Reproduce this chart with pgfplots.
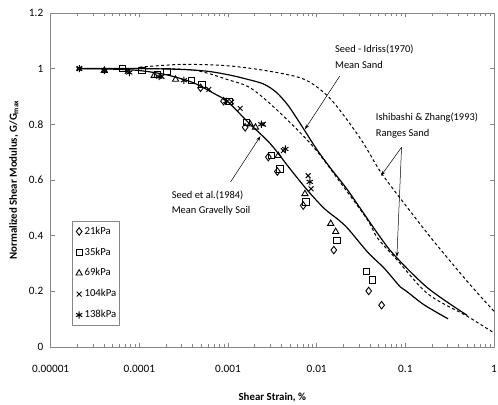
\documentclass[border=0pt]{standalone}
\usepackage{pgfplots}
\pgfplotsset{compat=1.18}
\usepackage{fontspec}
\setmainfont{Carlito}
\usetikzlibrary{arrows.meta}
\definecolor{framegray}{RGB}{134,134,134}
\begin{document}
\begin{tikzpicture}
\begin{axis}[name=ax,
  scale only axis, width=446pt, height=336pt,
  xmode=log, xmin=1e-5, xmax=1, ymin=0, ymax=1.2,
  xtick={1e-5,1e-4,1e-3,1e-2,1e-1,1},
  xticklabels={0.00001,0.0001,0.001,0.01,0.1,1},
  minor xtick={2e-5,3e-5,4e-5,5e-5,6e-5,7e-5,8e-5,9e-5,2e-4,3e-4,4e-4,5e-4,6e-4,7e-4,8e-4,9e-4,2e-3,3e-3,4e-3,5e-3,6e-3,7e-3,8e-3,9e-3,2e-2,3e-2,4e-2,5e-2,6e-2,7e-2,8e-2,9e-2,0.2,0.3,0.4,0.5,0.6,0.7,0.8,0.9},
  ytick={0,0.2,0.4,0.6,0.8,1,1.2},
  yticklabels={0,0.2,0.4,0.6,0.8,1,1.2},
  tick align=inside, major tick length=4pt, minor tick length=3pt,
  tick style={framegray, line width=0.6pt},
  axis line style={framegray, line width=0.8pt},
  xticklabel style={anchor=center, yshift=-22pt, font=\fontsize{11.3}{13}\selectfont},
  yticklabel style={anchor=east, xshift=-4pt, font=\fontsize{11.3}{13}\selectfont},
  xlabel={\textbf{Shear Strain, \%}},
  ylabel={\textbf{Normalized Shear Modulus, G/G\textsubscript{max}}},
  xlabel style={at={(axis description cs:0.5,-0.152)}, anchor=center, font=\fontsize{10.9}{13}\selectfont},
  ylabel style={at={(axis description cs:-0.083,0.5)}, anchor=center, rotate=0, font=\fontsize{10.9}{13}\selectfont},
  legend style={at={(axis description cs:0.0487,0.377)}, anchor=north west, draw=framegray, line width=0.6pt,
    font=\fontsize{10.8}{13}\selectfont, inner xsep=2.5pt, inner ysep=4pt, row sep=8.5pt,
    nodes={inner sep=1pt, text height=8pt, text depth=2.5pt}},
  legend cell align=left,
  legend image code/.code={\path (-3.8pt,0pt) (4.2pt,0pt); \draw[#1] plot coordinates {(0pt,0pt)};},
  clip=false
]
% Seed et al. (1984) mean gravelly soil
\addplot[black, line width=1.2pt, smooth, forget plot] coordinates {
(2e-5,1.0) (5e-5,0.998) (1e-4,0.993) (2e-4,0.978) (4e-4,0.95) (7e-4,0.91) (1e-3,0.88)
(1.7e-3,0.806) (3e-3,0.73) (5e-3,0.64) (8e-3,0.56) (0.0123,0.496) (0.0174,0.458)
(0.0225,0.425) (0.0377,0.34) (0.058,0.282) (0.088,0.215) (0.106,0.197) (0.163,0.151) (0.303,0.101)};
% Seed-Idriss (1970) mean sand
\addplot[black, line width=1.2pt, smooth, forget plot] coordinates {
(2e-5,1.0) (1e-4,1.0) (3e-4,0.997) (6e-4,0.99) (1e-3,0.978) (1.5e-3,0.965) (2.5e-3,0.945)
(3.5e-3,0.915) (4.7e-3,0.87) (6e-3,0.82) (7.4e-3,0.775) (0.01,0.71) (0.0145,0.64)
(0.0225,0.562) (0.0488,0.407) (0.075,0.33) (0.18,0.211) (0.5,0.113)};
% Ishibashi & Zhang (1993) upper range
\addplot[black, line width=1pt, dash pattern=on 3pt off 2.5pt, smooth, forget plot] coordinates {
(1e-4,1.005) (3e-4,1.015) (1e-3,1.01) (3e-3,0.99) (7.4e-3,0.96) (0.0145,0.889)
(0.0315,0.746) (0.053,0.627) (0.115,0.485) (0.211,0.378) (0.5,0.235) (1.0,0.128)};
% Ishibashi & Zhang (1993) lower range
\addplot[black, line width=1pt, dash pattern=on 3pt off 2.5pt, smooth, forget plot] coordinates {
(1e-4,1.0) (4e-4,0.995) (1e-3,0.96) (1.8e-3,0.93) (3.6e-3,0.85) (9e-3,0.722) (0.02,0.576)
(0.0377,0.455) (0.0488,0.39) (0.082,0.31) (0.18,0.19) (0.5,0.11) (1.0,0.05)};
% data
\addplot[only marks, mark=diamond, mark size=3.8pt, mark options={black, line width=0.9pt}] coordinates {
(4.9e-4,0.931) (8.9e-4,0.883) (1.56e-3,0.789) (2.85e-3,0.682) (3.6e-3,0.63) (7.05e-3,0.508)
(0.0156,0.348) (0.0386,0.201) (0.054,0.15)};
\addlegendentry{21kPa}
\addplot[only marks, mark=square, mark size=3.2pt, mark options={black, line width=0.9pt}] coordinates {
(6.47e-5,1.0) (1.07e-4,0.993) (1.6e-4,0.98) (2.05e-4,0.99) (3.9e-4,0.958) (5.06e-4,0.943)
(1.02e-3,0.882) (1.62e-3,0.807) (3.08e-3,0.687) (3.85e-3,0.639) (7.6e-3,0.521)
(0.01694,0.383) (0.0367,0.271) (0.0428,0.24)};
\addlegendentry{35kPa}
\addplot[only marks, mark=triangle, mark size=3.6pt, mark options={black, line width=0.9pt}] coordinates {
(4.03e-5,0.993) (1.47e-4,0.975) (2.56e-4,0.961) (1.78e-3,0.8) (2.04e-3,0.789) (3.69e-3,0.687)
(7.37e-3,0.55) (0.0144,0.443) (0.01637,0.414)};
\addlegendentry{69kPa}
\addplot[only marks, mark=x, mark size=3.4pt, mark options={black, line width=1pt}] coordinates {
(2.1e-5,1.0) (7.3e-5,0.99) (1.8e-4,0.971) (6.07e-4,0.925) (1.1e-3,0.88) (1.37e-3,0.857)
(2.5e-3,0.8) (4.2e-3,0.705) (8.0e-3,0.615) (8.65e-3,0.568)};
\addlegendentry{104kPa}
\addplot[only marks, mark=asterisk, mark size=3.6pt, mark options={black, line width=1pt}] coordinates {
(2.1e-5,1.0) (4.03e-5,0.993) (7.7e-5,0.986) (1.67e-4,0.971) (3.18e-4,0.958) (9.6e-4,0.883)
(2.38e-3,0.8) (4.43e-3,0.711) (8.37e-3,0.593)};
\addlegendentry{138kPa}
% annotations
\draw[black, line width=0.5pt, -{Stealth[length=5pt,width=3.5pt]}] (axis cs:0.01815,0.9725) -- (axis cs:7.37e-3,0.782);
\draw[black, line width=0.5pt, -{Stealth[length=5pt,width=3.5pt]}] (axis cs:0.0906,0.717) -- (axis cs:0.0531,0.615);
\draw[black, line width=0.5pt, -{Stealth[length=5pt,width=3.5pt]}] (axis cs:0.0906,0.717) -- (axis cs:0.0803,0.324);
\draw[black, line width=0.5pt, -{Stealth[length=5pt,width=3.5pt]}] (axis cs:1.07e-3,0.593) -- (axis cs:2.32e-3,0.757);
\node[anchor=west, align=left, inner sep=0pt, font=\fontsize{10.5}{16}\selectfont] at (axis cs:0.01606,1.043) {Seed - Idriss(1970)\\Mean Sand};
\node[anchor=west, align=left, inner sep=0pt, font=\fontsize{10.5}{16}\selectfont] at (axis cs:0.04634,0.7946) {Ishibashi \& Zhang(1993)\\Ranges Sand};
\node[anchor=west, align=left, inner sep=0pt, font=\fontsize{10.5}{15}\selectfont] at (axis cs:2.31e-4,0.518) {Seed et al.(1984)\\Mean Gravelly Soil};
\end{axis}
\pgfresetboundingbox
\path ([xshift=-51pt,yshift=-58pt]ax.south west) rectangle ([xshift=4pt,yshift=13pt]ax.north east);
\end{tikzpicture}
\end{document}
